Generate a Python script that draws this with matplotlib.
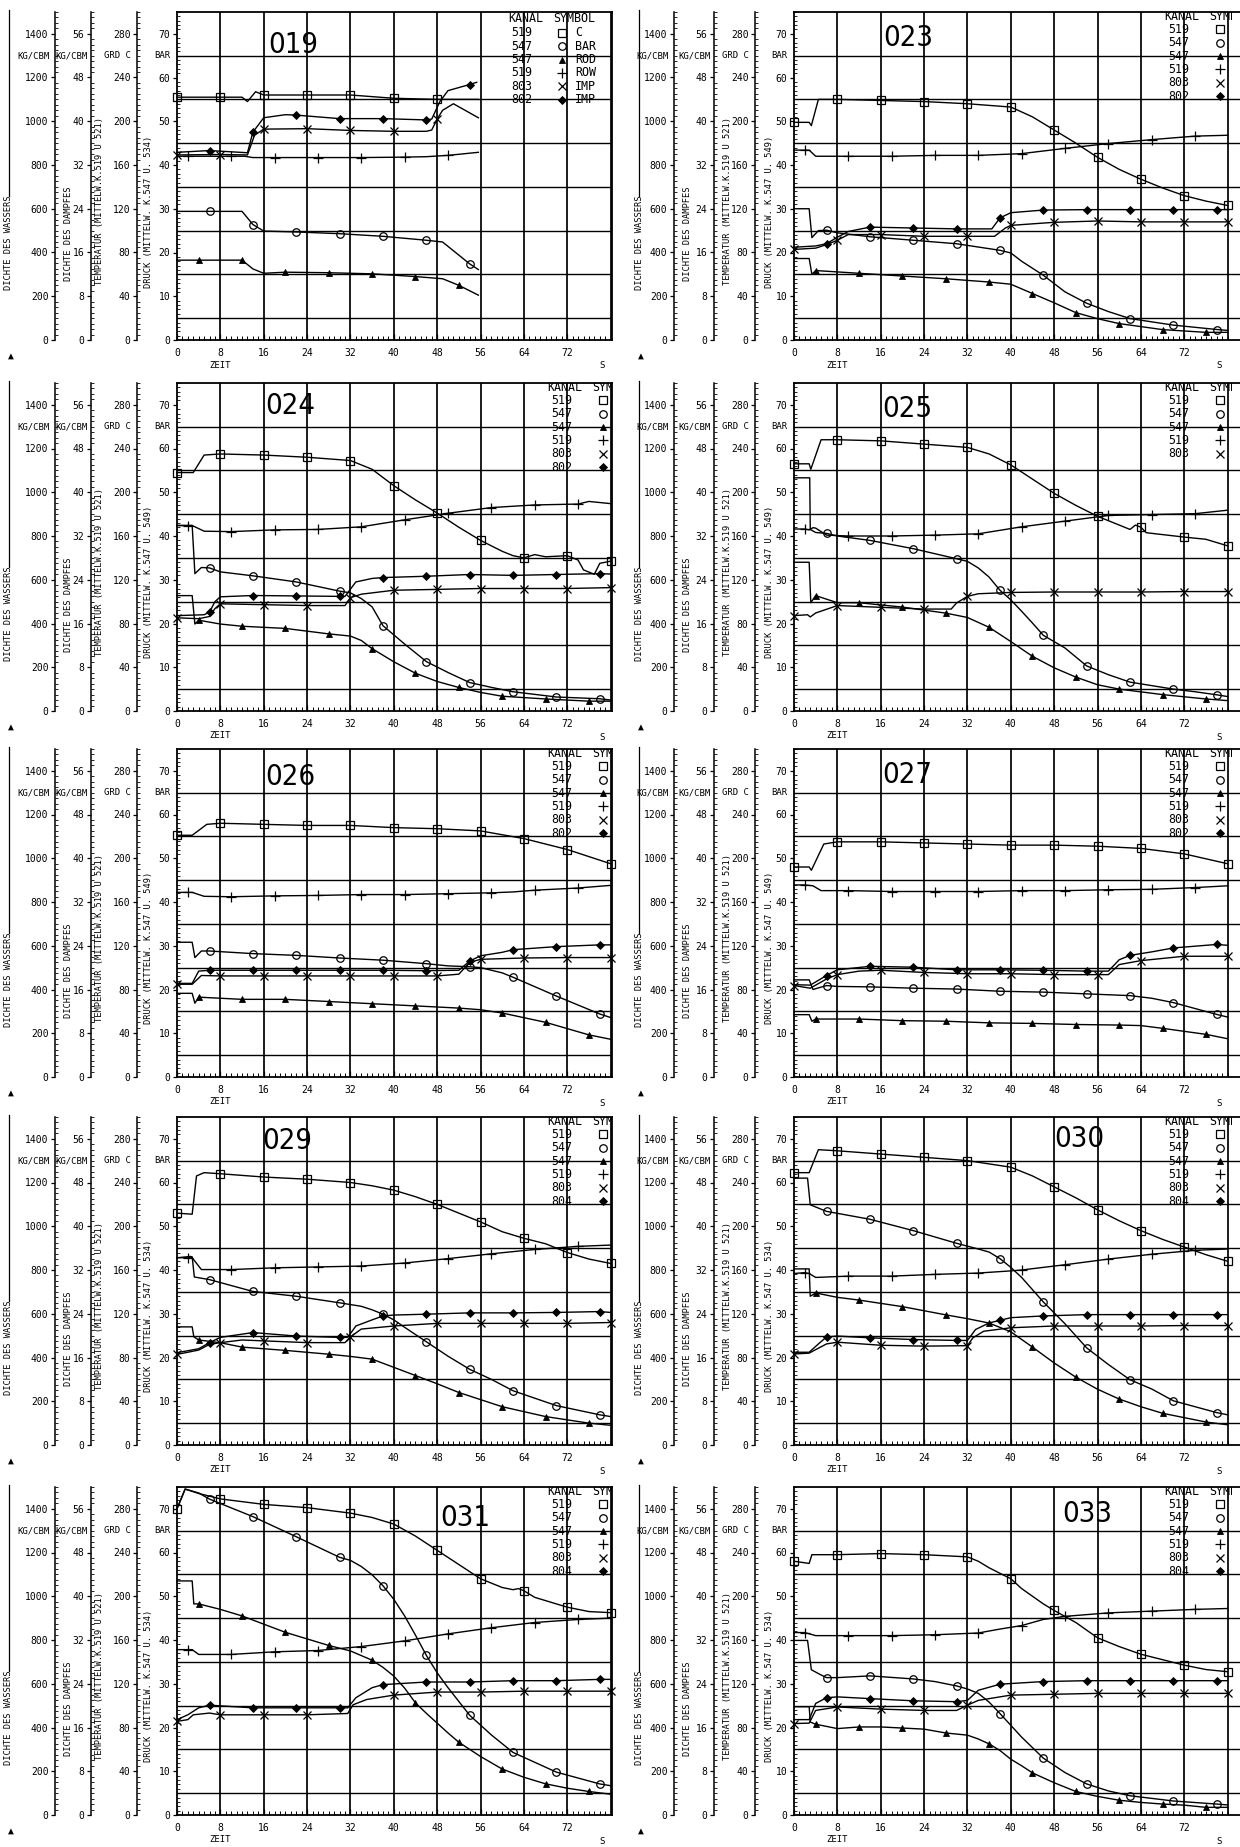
import matplotlib
matplotlib.use("Agg")
import matplotlib.pyplot as plt
from matplotlib import transforms
from matplotlib.patches import Rectangle
from matplotlib.ticker import FixedLocator

plt.rcParams['font.family'] = ['DejaVu Sans Mono']

# ---------------------------------------------------------------------------
# Measured channels per test run.  Times in s.
#   c  : 519 temperature [GRD C]        p  : 547 pressure [BAR]
#   rd : 547 steam density [KG/CBM]     rw : 519 water density [KG/CBM]
#   i1 : 803 impulse                    i2 : 802 / 804 impulse
# ---------------------------------------------------------------------------

# --- run 019
t019_c = [0, 8, 12, 13, 14.5, 16, 24, 32, 40, 48, 55.6]
v019_c = [222, 222, 222, 218, 227, 224, 224, 224, 221, 220, 220]
t019_p = [0, 6, 12, 14, 16, 22, 30, 38, 46, 49, 54, 55.6]
v019_p = [29.4, 29.4, 29.4, 26.4, 24.9, 24.7, 24.3, 23.7, 22.8, 22.4, 17.4, 16.1]
t019_rd = [0, 4, 12, 14, 16, 20, 28, 36, 44, 49, 52, 55.6]
v019_rd = [14.6, 14.6, 14.6, 13.0, 12.2, 12.4, 12.3, 12.1, 11.6, 11.2, 10.0, 8.2]
t019_rw = [0, 2, 10, 12.5, 14, 18, 26, 34, 42, 46, 50, 55.6]
v019_rw = [840, 840, 840, 840, 834, 834, 834, 834, 836, 838, 844, 858]
t019_i1 = [0, 8, 13, 14.3, 16, 24, 32, 40, 46, 47, 48, 49, 51, 55.6]
v019_i1 = [42.3, 42.4, 42.3, 46.8, 48.2, 48.3, 47.9, 47.7, 47.7, 48.0, 50.5, 52.5, 54.0, 50.8]
t019_i2 = [0, 6, 13, 14, 16, 20, 22, 30, 38, 46, 47, 48.5, 50, 54, 55.3]
v019_i2 = [42.9, 43.3, 42.8, 47.5, 50.8, 51.5, 51.4, 50.6, 50.6, 50.3, 50.5, 54.5, 57.0, 58.4, 58.9]

# --- run 023
t023_c = [0, 2.8, 3.2, 4.5, 8, 16, 24, 32, 40, 44, 48, 52, 56, 60, 64, 68, 72, 76, 80]
v023_c = [199, 199, 196, 220, 220, 219, 218, 216, 213, 204, 192, 180, 167, 156, 147, 139, 132, 127, 123]
t023_p = [0, 2.8, 3.3, 4.5, 6, 8, 14, 22, 30, 38, 40, 42, 46, 50, 54, 58, 62, 70, 78, 80]
v023_p = [30.0, 30.0, 23.4, 25.0, 25.1, 24.5, 23.6, 22.8, 22.0, 20.5, 19.9, 18.0, 14.8, 11.0, 8.4, 6.5, 4.9, 3.4, 2.4, 2.2]
t023_rd = [0, 2.8, 3.3, 4, 12, 20, 28, 36, 40, 44, 48, 52, 56, 60, 68, 76, 80]
v023_rd = [14.9, 14.9, 12.0, 12.7, 12.2, 11.7, 11.2, 10.6, 10.2, 8.5, 6.8, 5.0, 3.9, 3.0, 1.9, 1.4, 1.4]
t023_rw = [0, 2, 2.8, 4, 10, 18, 26, 34, 42, 50, 58, 66, 74, 80]
v023_rw = [868, 868, 868, 840, 840, 840, 844, 844, 852, 876, 898, 916, 932, 936]
t023_i1 = [0, 4, 6, 8, 10, 16, 24, 32, 37, 39, 40, 48, 56, 64, 72, 80]
v023_i1 = [20.7, 21.0, 21.8, 22.8, 24.1, 24.1, 23.7, 23.7, 23.7, 25.6, 26.2, 26.9, 27.2, 27.0, 27.0, 27.0]
t023_i2 = [0, 4, 6, 8, 10, 14, 22, 30, 36.5, 38, 40, 46, 54, 62, 70, 78, 80]
v023_i2 = [21.2, 21.5, 22.0, 23.5, 24.8, 25.8, 25.6, 25.4, 25.4, 27.9, 29.1, 29.7, 29.8, 29.8, 29.8, 29.8, 29.8]

# --- run 024
t024_c = [0, 3, 5, 8, 16, 24, 32, 36, 40, 44, 48, 52, 56, 60, 62, 64, 66, 68, 72, 74, 75, 77, 78, 80]
v024_c = [218, 218, 234, 235, 234, 232, 229, 221, 206, 193, 181, 168, 156, 146, 142, 140, 143, 141, 142, 138, 129, 125, 135, 137]
t024_p = [0, 2.8, 3.3, 4.5, 6, 8, 14, 22, 30, 32, 34, 36, 38, 42, 46, 50, 54, 58, 62, 70, 78, 80]
v024_p = [42.4, 42.4, 31.4, 32.8, 32.7, 31.8, 30.9, 29.5, 27.4, 27.0, 25.7, 23.8, 19.5, 15.3, 11.3, 8.8, 6.5, 5.4, 4.4, 3.2, 2.8, 2.5]
t024_rd = [0, 2.8, 3.3, 4, 8, 12, 20, 28, 32, 34, 36, 40, 44, 48, 52, 56, 60, 68, 76, 80]
v024_rd = [21.1, 21.1, 15.9, 16.6, 15.9, 15.5, 15.1, 14.1, 13.7, 12.9, 11.4, 9.0, 6.9, 5.4, 4.3, 3.4, 2.7, 2.2, 1.8, 1.8]
t024_rw = [0, 2, 2.8, 5, 10, 18, 26, 34, 42, 50, 58, 66, 74, 76, 80]
v024_rw = [848, 848, 848, 822, 820, 828, 830, 842, 874, 904, 930, 942, 946, 958, 948]
t024_i1 = [0, 4, 6, 7, 8, 16, 24, 31, 32, 34, 40, 48, 56, 64, 72, 80]
v024_i1 = [21.3, 21.1, 21.6, 23.4, 24.5, 24.3, 24.1, 24.1, 25.9, 26.7, 27.6, 27.8, 28.0, 28.0, 28.0, 28.2]
t024_i2 = [0, 5, 6, 7, 8, 14, 22, 30, 31, 33, 36, 38, 46, 54, 62, 70, 78, 80]
v024_i2 = [21.8, 22.0, 22.6, 25.0, 26.1, 26.4, 26.3, 26.2, 26.2, 29.5, 30.3, 30.5, 30.8, 31.2, 31.0, 31.2, 31.4, 31.3]

# --- run 025
t025_c = [0, 2.8, 3.1, 5, 8, 16, 24, 32, 36, 40, 44, 48, 52, 56, 60, 62, 63, 64, 65, 72, 76, 80]
v025_c = [226, 226, 221, 248, 248, 247, 244, 241, 235, 225, 212, 199, 188, 178, 170, 166, 170, 168, 163, 159, 157, 151]
t025_p = [0, 2.9, 3.0, 4, 6, 8, 14, 22, 30, 32, 34, 36, 38, 40, 42, 44, 46, 50, 54, 58, 62, 66, 70, 74, 78, 80]
v025_p = [53.3, 53.3, 41.5, 40.8, 40.6, 40.0, 39.0, 37.1, 34.8, 34.2, 32.7, 30.6, 27.6, 25.4, 22.8, 20.1, 17.3, 14.4, 10.3, 8.3, 6.6, 5.8, 5.0, 4.4, 3.7, 3.3]
t025_rd = [0, 2.8, 3.1, 4, 8, 12, 20, 28, 32, 36, 40, 44, 48, 52, 56, 60, 68, 76, 80]
v025_rd = [27.2, 27.2, 19.8, 21.1, 19.8, 19.8, 19.0, 17.9, 17.1, 15.3, 12.7, 10.0, 7.9, 6.2, 4.8, 4.0, 3.0, 2.2, 1.9]
t025_rw = [0, 2, 2.8, 3.5, 4, 6, 10, 18, 26, 34, 40, 42, 50, 58, 66, 74, 80]
v025_rw = [832, 832, 828, 838, 836, 804, 800, 800, 804, 810, 834, 842, 868, 894, 898, 902, 918]
t025_i1 = [0, 2.5, 3, 4, 8, 16, 24, 29, 30, 32, 34, 40, 48, 56, 64, 72, 80]
v025_i1 = [21.8, 22.0, 21.5, 22.4, 24.1, 23.7, 23.3, 23.3, 24.7, 26.2, 26.8, 27.1, 27.2, 27.2, 27.2, 27.3, 27.3]

# --- run 026
t026_c = [0, 2.8, 5.5, 8, 16, 24, 32, 40, 48, 56, 64, 72, 80]
v026_c = [221, 221, 231, 232, 231, 230, 230, 228, 227, 225, 218, 208, 195]
t026_p = [0, 2.8, 3.3, 4.5, 6, 14, 22, 30, 38, 46, 50, 54, 56, 60, 62, 70, 78, 80]
v026_p = [30.8, 30.8, 27.3, 28.8, 28.8, 28.2, 27.8, 27.2, 26.7, 25.9, 25.4, 25.2, 25.0, 23.8, 22.8, 18.5, 14.4, 13.6]
t026_rd = [0, 2.8, 3.3, 4, 12, 20, 28, 36, 44, 52, 56, 60, 68, 76, 80]
v026_rd = [15.3, 15.3, 13.5, 14.6, 14.2, 14.2, 13.8, 13.4, 13.0, 12.6, 12.3, 11.7, 10.0, 7.7, 6.9]
t026_rw = [0, 2, 2.8, 5, 10, 18, 26, 34, 42, 50, 58, 62, 66, 74, 80]
v026_rw = [844, 844, 844, 826, 824, 828, 830, 834, 834, 838, 842, 846, 854, 864, 876]
t026_i1 = [0, 2.8, 4.5, 8, 16, 24, 32, 40, 48, 52, 54, 56, 64, 72, 80]
v026_i1 = [21.2, 21.2, 23.2, 23.1, 23.1, 23.1, 23.1, 23.1, 23.1, 23.5, 26.2, 26.9, 27.2, 27.3, 27.3]
t026_i2 = [0, 2.8, 4, 6, 14, 22, 30, 38, 46, 52, 54, 56, 60, 62, 70, 78, 80]
v026_i2 = [21.4, 21.4, 24.2, 24.4, 24.4, 24.4, 24.4, 24.4, 24.3, 24.4, 26.5, 27.7, 28.5, 29.1, 29.8, 30.2, 30.2]

# --- run 027
t027_c = [0, 2.8, 3.2, 5.5, 8, 16, 24, 32, 40, 48, 56, 64, 72, 80]
v027_c = [192, 192, 189, 213, 215, 215, 214, 213, 212, 212, 211, 209, 204, 195]
t027_p = [0, 2.8, 3.5, 6, 8, 14, 22, 30, 38, 46, 54, 62, 66, 70, 78, 80]
v027_p = [22.2, 22.2, 20.0, 20.9, 20.7, 20.6, 20.3, 20.1, 19.6, 19.4, 19.0, 18.6, 18.0, 17.0, 14.3, 13.7]
t027_rd = [0, 2.8, 3.3, 4, 12, 20, 28, 36, 44, 52, 60, 64, 68, 76, 80]
v027_rd = [11.4, 11.4, 10.2, 10.6, 10.6, 10.3, 10.2, 9.9, 9.8, 9.6, 9.5, 9.4, 8.9, 7.8, 7.0]
t027_rw = [0, 2, 3.5, 5, 10, 18, 26, 34, 42, 50, 58, 66, 74, 80]
v027_rw = [878, 878, 874, 852, 852, 848, 848, 848, 852, 852, 856, 858, 866, 874]
t027_i1 = [0, 3, 6, 8, 12, 16, 24, 32, 40, 48, 56, 58, 60, 64, 72, 80]
v027_i1 = [20.9, 20.3, 22.4, 23.4, 24.2, 24.4, 23.9, 23.6, 23.6, 23.4, 23.4, 23.4, 25.7, 26.6, 27.6, 27.6]
t027_i2 = [0, 3, 6, 8, 14, 22, 30, 38, 46, 54, 58, 60, 62, 66, 70, 78, 80]
v027_i2 = [21.1, 21.0, 23.2, 24.5, 25.3, 25.1, 24.5, 24.5, 24.4, 24.2, 24.2, 26.8, 27.8, 28.6, 29.5, 30.3, 30.1]

# --- run 029
t029_c = [0, 2.8, 3.6, 5, 8, 16, 24, 32, 36, 40, 44, 48, 52, 56, 60, 64, 68, 72, 76, 80]
v029_c = [212, 211, 246, 249, 248, 245, 243, 240, 237, 233, 227, 220, 212, 204, 195, 189, 184, 176, 170, 166]
t029_p = [0, 2.5, 2.8, 3.2, 6, 14, 22, 30, 34, 36, 38, 40, 42, 46, 50, 54, 58, 62, 70, 78, 80]
v029_p = [42.8, 43.1, 43.0, 38.4, 37.8, 35.1, 34.0, 32.5, 31.7, 30.9, 29.9, 28.6, 26.9, 23.6, 20.3, 17.3, 15.0, 12.4, 9.0, 6.9, 6.5]
t029_rd = [0, 2.8, 3.1, 4, 8, 12, 20, 28, 32, 36, 40, 44, 48, 52, 56, 60, 68, 76, 80]
v029_rd = [21.6, 21.6, 19.8, 19.2, 18.7, 17.9, 17.3, 16.6, 16.2, 15.7, 14.2, 12.7, 11.2, 9.6, 8.3, 7.0, 5.2, 4.0, 3.6]
t029_rw = [0, 2, 2.8, 4.5, 10, 18, 26, 34, 42, 50, 58, 66, 74, 80]
v029_rw = [856, 856, 856, 802, 802, 810, 814, 818, 832, 852, 874, 894, 908, 914]
t029_i1 = [0, 4, 6, 8, 12, 16, 24, 31, 32, 34, 40, 48, 56, 64, 72, 80]
v029_i1 = [20.7, 21.7, 23.0, 23.4, 24.0, 23.8, 23.4, 23.4, 24.7, 26.5, 27.2, 27.8, 27.8, 27.8, 27.8, 28.0]
t029_i2 = [0, 4, 6, 8, 14, 22, 30, 31.5, 33, 36, 38, 40, 46, 54, 62, 70, 78, 80]
v029_i2 = [21.1, 22.0, 23.4, 24.6, 25.7, 24.9, 24.6, 24.6, 27.2, 28.6, 29.5, 29.7, 29.9, 30.2, 30.2, 30.3, 30.5, 30.3]

# --- run 030
t030_c = [0, 2.8, 4.5, 8, 16, 24, 32, 36, 40, 44, 48, 52, 56, 60, 64, 68, 72, 76, 80]
v030_c = [249, 249, 270, 269, 266, 263, 260, 257, 254, 246, 236, 226, 215, 205, 196, 188, 181, 174, 168]
t030_p = [0, 2.5, 3, 6, 14, 22, 30, 34, 36, 38, 40, 42, 46, 50, 54, 58, 62, 66, 70, 78, 80]
v030_p = [61.0, 61.0, 54.9, 53.4, 51.6, 49.0, 46.1, 44.8, 44.1, 42.6, 40.6, 38.3, 32.7, 27.7, 22.2, 18.4, 14.9, 12.8, 10.1, 7.4, 6.9]
t030_rd = [0, 2.8, 3, 4, 8, 12, 20, 28, 32, 36, 40, 44, 48, 52, 56, 60, 64, 68, 76, 80]
v030_rd = [32.2, 32.2, 27.2, 27.8, 27.0, 26.5, 25.3, 23.8, 23.1, 22.3, 20.7, 17.9, 15.0, 12.4, 10.2, 8.4, 7.0, 5.8, 4.2, 3.7]
t030_rw = [0, 2, 2.8, 4, 10, 18, 26, 34, 40, 42, 50, 58, 66, 74, 80]
v030_rw = [784, 788, 784, 766, 772, 772, 780, 786, 796, 800, 824, 850, 872, 890, 896]
t030_i1 = [0, 2.8, 4, 6, 8, 16, 24, 32, 33, 35, 40, 48, 56, 64, 72, 80]
v030_i1 = [20.8, 21.0, 21.8, 23.1, 23.5, 22.8, 22.6, 22.7, 24.5, 26.0, 26.8, 27.2, 27.2, 27.2, 27.3, 27.3]
t030_i2 = [0, 2.8, 4.5, 6, 8, 14, 22, 30, 32, 33.5, 36, 38, 40, 46, 54, 62, 70, 78, 80]
v030_i2 = [21.2, 21.2, 23.1, 24.7, 24.9, 24.5, 24.1, 23.9, 23.9, 26.4, 27.9, 28.5, 29.1, 29.5, 29.8, 29.8, 29.8, 29.8, 29.8]

# --- run 031
t031_c = [0, 1.5, 4, 8, 16, 24, 32, 36, 40, 44, 48, 52, 56, 58, 60, 62, 63, 64, 66, 68, 72, 76, 80]
v031_c = [280, 298, 294, 289, 284, 281, 276, 272, 266, 255, 242, 229, 216, 212, 208, 206, 207, 205, 199, 196, 190, 186, 185]
t031_p = [0, 1.5, 4, 6, 14, 22, 30, 32, 34, 36, 38, 40, 42, 44, 46, 48, 50, 54, 58, 62, 70, 78, 80]
v031_p = [70.0, 74.5, 73.6, 72.2, 68.2, 63.6, 58.9, 58.2, 56.8, 54.9, 52.4, 49.3, 45.5, 41.1, 36.5, 32.5, 29.1, 22.8, 18.3, 14.3, 9.8, 7.1, 6.7]
t031_rd = [0, 2.8, 3.1, 4, 8, 12, 20, 28, 32, 36, 38, 40, 42, 44, 46, 48, 50, 52, 56, 60, 64, 68, 72, 76, 80]
v031_rd = [42.8, 42.8, 38.6, 38.6, 37.6, 36.4, 33.4, 31.0, 30.0, 28.3, 27.0, 25.4, 23.2, 20.5, 18.6, 16.8, 15.0, 13.3, 10.7, 8.4, 6.9, 5.7, 4.9, 4.3, 3.8]
t031_rw = [0, 2, 2.8, 4, 10, 18, 26, 34, 42, 50, 58, 66, 74, 80]
v031_rw = [756, 756, 756, 734, 734, 746, 752, 770, 796, 828, 856, 880, 894, 900]
t031_i1 = [0, 2, 3, 6, 8, 16, 24, 31.5, 32.5, 35, 40, 48, 56, 64, 72, 80]
v031_i1 = [21.4, 21.8, 22.9, 23.3, 22.9, 22.9, 22.9, 23.2, 25.2, 26.4, 27.4, 28.1, 28.1, 28.3, 28.3, 28.3]
t031_i2 = [0, 2, 4, 6, 14, 22, 30, 31.5, 33, 36, 38, 46, 54, 62, 70, 78, 80]
v031_i2 = [21.8, 22.9, 24.5, 25.1, 24.5, 24.5, 24.5, 24.5, 26.8, 29.1, 29.8, 30.4, 30.4, 30.7, 30.7, 31.0, 31.0]

# --- run 033
t033_c = [0, 2.8, 3.3, 5, 8, 16, 24, 32, 34, 36, 38, 40, 42, 44, 46, 48, 52, 56, 60, 64, 68, 72, 76, 80]
v033_c = [232, 230, 238, 238, 238, 239, 238, 236, 232, 226, 221, 216, 207, 200, 193, 187, 176, 162, 154, 147, 142, 137, 133, 131]
t033_p = [0, 2.5, 3.2, 5, 6, 8, 14, 22, 26, 30, 32, 34, 36, 38, 40, 42, 46, 50, 54, 58, 62, 70, 78, 80]
v033_p = [39.9, 39.9, 33.2, 32.0, 31.4, 31.4, 31.8, 31.1, 30.5, 29.5, 28.8, 27.8, 25.8, 23.2, 20.5, 17.8, 13.0, 9.7, 7.1, 5.5, 4.4, 3.2, 2.5, 2.3]
t033_rd = [0, 2.8, 3.0, 4, 8, 12, 16, 20, 24, 28, 32, 34, 36, 38, 40, 42, 44, 48, 52, 56, 60, 64, 68, 72, 76, 80]
v033_rd = [19.8, 19.8, 17.0, 16.6, 15.8, 16.1, 16.1, 15.9, 15.7, 15.0, 14.6, 13.9, 13.0, 11.8, 10.2, 9.0, 7.7, 5.9, 4.3, 3.4, 2.7, 2.3, 2.0, 1.8, 1.4, 1.4]
t033_rw = [0, 2, 4, 10, 18, 26, 34, 38, 42, 46, 50, 58, 66, 74, 80]
v033_rw = [834, 834, 820, 820, 820, 824, 832, 850, 866, 894, 908, 924, 932, 940, 944]
t033_i1 = [0, 2.8, 4, 8, 16, 24, 30, 32, 34, 40, 48, 56, 64, 72, 80]
v033_i1 = [20.9, 21.0, 23.9, 24.7, 24.2, 23.9, 23.9, 25.1, 26.2, 27.4, 27.6, 27.8, 27.8, 27.8, 27.8]
t033_i2 = [0, 2.8, 4, 6, 8, 14, 22, 30, 32, 34, 38, 46, 54, 62, 70, 78, 80]
v033_i2 = [21.8, 21.8, 25.5, 26.8, 27.0, 26.6, 26.1, 25.9, 26.2, 28.5, 29.9, 30.5, 30.7, 30.7, 30.7, 30.7, 30.7]

# --- run headers
RUN_IDS = ["019", "023", "024", "025", "026", "027", "029", "030", "031", "033"]
RUN_DRUCK_REF = ["534", "549", "549", "549", "549", "549", "534", "534", "534", "534"]
RUN_IMP2_CHANNEL = ["802", "802", "802", None, "802", "802", "804", "804", "804", "804"]
RUN_NUMBER_POS = [(16.8, 67.5), (16.4, 69.0), (16.3, 69.7), (16.3, 69.0), (16.3, 68.5),
                  (16.3, 69.0), (15.7, 69.5), (48.0, 70.0), (48.5, 68.0), (49.5, 68.8)]

X_TICKS = [0, 8, 16, 24, 32, 40, 48, 56, 64, 72]
P_TICKS = [0, 10, 20, 30, 40, 50, 60, 70]
T_TICKS = [0, 40, 80, 120, 160, 200, 240, 280]
RD_TICKS = [0, 8, 16, 24, 32, 40, 48, 56]
RW_TICKS = [0, 200, 400, 600, 800, 1000, 1200, 1400]

RUN_SERIES = {}
for _rid in RUN_IDS:
    _g = globals()
    _s = {}
    for _k in ("c", "p", "rd", "rw", "i1", "i2"):
        if ("t%s_%s" % (_rid, _k)) in _g:
            _s[_k] = (_g["t%s_%s" % (_rid, _k)], _g["v%s_%s" % (_rid, _k)])
    RUN_SERIES[_rid] = _s

# ---------------------------------------------------------------------------
# page geometry (pixels)
# ---------------------------------------------------------------------------
FIG_W, FIG_H = 1240, 1847
PX_PER_S = 5.42
PX_PER_BAR = 4.375
ROW_ZERO = [340, 711, 1077, 1445, 1815]
COL_X0 = [177, 794]
COL_XMAX = [80.2, (FIG_W - 794) / PX_PER_S]
SPINE_OFF = [(40, 86, 122), (39, 80, 120)]            # temperature, steam, water
TITLE_OFF = [(168, 108, 77, 29), (155, 107, 67, 25)]  # water, steam, temp, pressure

# marker style and phase (s) of every channel symbol
MARK = {
    "c":  dict(marker="s", ms=5.2, mfc="none", mew=0.9, phase=0),
    "p":  dict(marker="o", ms=5.4, mfc="none", mew=0.9, phase=6),
    "rd": dict(marker="^", ms=4.6, mfc="black", mew=0.6, phase=4),
    "rw": dict(marker="+", ms=6.5, mfc="black", mew=0.9, phase=2),
    "i1": dict(marker="x", ms=5.5, mfc="black", mew=0.9, phase=0),
    "i2": dict(marker="D", ms=3.8, mfc="black", mew=0.6, phase=6),
}
LEG_ROWS = [("519", "c", "C"), ("547", "p", "BAR"), ("547", "rd", "ROD"),
            ("519", "rw", "ROW"), ("803", "i1", "IMP"), (None, "i2", "IMP")]

fig = plt.figure(figsize=(FIG_W / 100, FIG_H / 100), dpi=100)
fig.patch.set_facecolor("white")

TICK_FS = 7
LEG_FS = 8.4
LW = 1.0


def marker_index(t, phase):
    idx = []
    for i, x in enumerate(t):
        q = (x - phase) / 8.0
        if x >= phase and abs(q - round(q)) < 1e-6:
            idx.append(i)
    return idx


def style_scale(axis, ticks, top, minor_step, off_px):
    axis.set_ylim(0, top)
    for s in ("right", "top", "bottom"):
        axis.spines[s].set_visible(False)
    axis.spines["left"].set_visible(True)
    axis.spines["left"].set_linewidth(1.1)
    if off_px:
        axis.spines["left"].set_position(("outward", off_px * 0.72))
    axis.yaxis.tick_left()
    axis.yaxis.set_major_locator(FixedLocator(ticks))
    n = int(round(top / minor_step))
    axis.yaxis.set_minor_locator(FixedLocator([k * minor_step for k in range(n + 1)]))
    axis.tick_params(axis="y", which="major", direction="out", length=3.2, width=0.9,
                     pad=1.5, labelsize=TICK_FS, left=True, right=False,
                     labelleft=True, labelright=False)
    axis.tick_params(axis="y", which="minor", direction="in", length=1.8, width=0.6,
                     left=True, right=False)
    axis.set_yticklabels([str(v) for v in ticks])


for k, rid in enumerate(RUN_IDS):
    row, col = k // 2, k % 2
    zero = ROW_ZERO[row]
    xmax = COL_XMAX[col]
    w_px = xmax * PX_PER_S
    h_px = 75 * PX_PER_BAR
    ax = fig.add_axes([COL_X0[col] / FIG_W, (FIG_H - zero) / FIG_H, w_px / FIG_W, h_px / FIG_H])
    ax.set_xlim(0, xmax)
    ax.set_ylim(0, 75)

    ax_t = ax.twinx()
    ax_d = ax.twinx()
    ax_w = ax.twinx()
    off_t, off_d, off_w = SPINE_OFF[col]
    style_scale(ax_t, T_TICKS, 300, 5, off_t)
    style_scale(ax_d, RD_TICKS, 60, 1, off_d)
    style_scale(ax_w, RW_TICKS, 1500, 25, off_w)

    # main pressure axis
    ax.yaxis.tick_left()
    ax.yaxis.set_major_locator(FixedLocator(P_TICKS))
    ax.yaxis.set_minor_locator(FixedLocator(list(range(0, 76))))
    ax.tick_params(axis="y", which="major", direction="out", length=3.2, width=0.9,
                   pad=1.5, labelsize=TICK_FS)
    ax.tick_params(axis="y", which="minor", direction="in", length=1.8, width=0.6)
    ax.xaxis.set_major_locator(FixedLocator(X_TICKS))
    ax.xaxis.set_minor_locator(FixedLocator(list(range(0, 81))))
    ax.tick_params(axis="x", which="major", direction="in", length=4.5, width=0.9,
                   pad=6, labelsize=TICK_FS)
    ax.tick_params(axis="x", which="minor", direction="in", length=2.6, width=0.7)
    for s in ("left", "bottom", "top", "right"):
        ax.spines[s].set_linewidth(1.3)
    if col == 1:
        ax.spines["right"].set_visible(False)

    # grid
    for gx in range(8, 81, 8):
        ax.axvline(gx, color="black", lw=1.25, zorder=1)
    for gy in range(5, 70, 10):
        ax.axhline(gy, color="black", lw=1.0, zorder=1)

    # unit labels and axis titles
    yt_main = transforms.blended_transform_factory(ax.transAxes, ax.transData)
    ax.text(-7 / w_px, 65, "BAR", transform=yt_main, ha="right", va="center", fontsize=6.5)
    ax.text(-(off_t + 6) / w_px, 65, "GRD C", transform=yt_main, ha="right", va="center", fontsize=6.5)
    ax.text(-(off_d + 3) / w_px, 65, "KG/CBM", transform=yt_main, ha="right", va="center", fontsize=6.5)
    ax.text(-(off_w + 5) / w_px, 65, "KG/CBM", transform=yt_main, ha="right", va="center", fontsize=6.5)

    o_w, o_d, o_t, o_p = TITLE_OFF[col]
    titles = [(o_w, "DICHTE DES WASSERS", 11.5), (o_d, "DICHTE DES DAMPFES", 13.5),
              (o_t, "TEMPERATUR (MITTELW.K.519 U 521)", 12.5),
              (o_p, "DRUCK (MITTELW. K.547 U. %s)" % RUN_DRUCK_REF[k], 12.0)]
    for off, txt, y0 in titles:
        ax.text(-off / w_px, y0, txt, transform=yt_main, rotation=90, rotation_mode="anchor",
                ha="left", va="center", fontsize=6.3)
    ax.plot([-o_w / w_px, -o_w / w_px], [33, 75.5], transform=yt_main, color="black",
            lw=0.9, clip_on=False)
    ax.text(-(o_w - 2) / w_px, -3.6, "\u25b2", transform=yt_main, ha="center", va="center",
            fontsize=7, clip_on=False)

    xt = transforms.blended_transform_factory(ax.transData, ax.transAxes)
    ax.text(8, -25 / h_px, "ZEIT", transform=xt, ha="center", va="center", fontsize=6.5)
    ax.text(78.5, -26 / h_px, "S", transform=xt, ha="center", va="center", fontsize=6.5)

    # run number
    nx, ny = RUN_NUMBER_POS[k]
    ax.text(nx, ny, rid, ha="left", va="center", fontsize=21, fontstretch="condensed",
            family=["Liberation Sans Narrow", "DejaVu Sans"], zorder=5)

    # channel curves
    series = RUN_SERIES[rid]
    target = {"c": ax_t, "p": ax, "rd": ax_d, "rw": ax_w, "i1": ax, "i2": ax}
    for key, (t, v) in series.items():
        st = MARK[key]
        target[key].plot(t, v, color="black", lw=LW, marker=st["marker"], ms=st["ms"],
                         mfc=st["mfc"], mec="black", mew=st["mew"],
                         markevery=marker_index(t, st["phase"]), clip_on=False, zorder=3)

    # channel legend
    clip = Rectangle((0, 0), min(80.9, xmax), 75, transform=ax.transData,
                     facecolor="none", edgecolor="none")
    ax.add_patch(clip)
    if rid == "019":
        kx, sx, mx, lx, hy, ry = 61.1, 69.4, 71.0, 73.4, 73.4, 70.2
    else:
        kx, sx, mx, lx, hy, ry = 68.4, 76.7, 78.6, 80.6, 73.9, 71.0
    leg_txt = [ax.text(kx, hy, "KANAL", fontsize=LEG_FS, ha="left", va="center"),
               ax.text(sx, hy, "SYMBOL", fontsize=LEG_FS, ha="left", va="center")]
    r = 0
    for chan, key, lab in LEG_ROWS:
        if key not in series:
            continue
        if chan is None:
            chan = RUN_IMP2_CHANNEL[k]
        yy = ry - 3.05 * r
        leg_txt.append(ax.text(kx + 0.6, yy, chan, fontsize=LEG_FS, ha="left", va="center"))
        leg_txt.append(ax.text(lx, yy, lab, fontsize=LEG_FS, ha="left", va="center"))
        st = MARK[key]
        m, = ax.plot([mx], [yy], linestyle="none", marker=st["marker"], ms=st["ms"],
                     mfc=st["mfc"], mec="black", mew=st["mew"], zorder=4)
        m.set_clip_path(clip)
        r += 1
    for tx in leg_txt:
        tx.set_clip_on(True)
        tx.set_clip_path(clip)

fig.savefig("out.png", dpi=100, facecolor="white")
